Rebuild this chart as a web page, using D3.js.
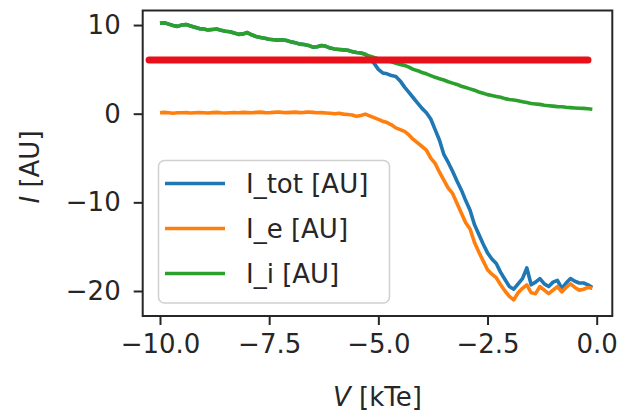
<!DOCTYPE html>
<html>
<head>
<meta charset="utf-8">
<script src="https://cdn.jsdelivr.net/npm/d3@7"></script>
<style>
  html, body { margin: 0; padding: 0; background: #fff; }
  svg { display: block; }
  text { font-family: "DejaVu Sans", sans-serif; fill: #262626; }
</style>
</head>
<body>
<svg id="chart" width="620" height="412"></svg>
<script>
// ---- data ----
const V = [-10.0,-9.9,-9.8,-9.7,-9.6,-9.5,-9.4,-9.3,-9.2,-9.1,
  -9.0,-8.9,-8.8,-8.7,-8.6,-8.5,-8.4,-8.3,-8.2,-8.1,
  -8.0,-7.9,-7.8,-7.7,-7.6,-7.5,-7.4,-7.3,-7.2,-7.1,
  -7.0,-6.9,-6.8,-6.7,-6.6,-6.5,-6.4,-6.3,-6.2,-6.1,
  -6.0,-5.9,-5.8,-5.7,-5.6,-5.5,-5.4,-5.3,-5.2,-5.1,
  -5.0,-4.9,-4.8,-4.7,-4.6,-4.5,-4.4,-4.3,-4.2,-4.1,
  -4.0,-3.9,-3.8,-3.7,-3.6,-3.5,-3.4,-3.3,-3.2,-3.1,
  -3.0,-2.9,-2.8,-2.7,-2.6,-2.5,-2.4,-2.3,-2.2,-2.1,
  -2.0,-1.9,-1.8,-1.7,-1.6,-1.5,-1.4,-1.3,-1.2,-1.1,
  -1.0,-0.9,-0.8,-0.7,-0.6,-0.5,-0.4,-0.3,-0.2,-0.1];

const I_tot = [10.2,10.25,10.1,9.95,9.85,10.0,10.05,9.9,9.75,9.6,
  9.55,9.45,9.5,9.55,9.4,9.3,9.25,9.1,8.95,9.0,
  9.15,8.9,8.7,8.6,8.5,8.4,8.35,8.3,8.35,8.25,
  8.1,8.0,7.85,7.8,7.7,7.5,7.55,7.7,7.6,7.4,
  7.3,7.25,7.2,7.15,7.0,6.9,6.85,6.7,6.2,5.7,
  5.0,4.6,4.5,4.3,4.2,3.7,3.0,2.4,1.8,1.2,
  0.6,0.1,-0.6,-1.8,-3.0,-4.6,-5.5,-6.5,-7.6,-8.6,
  -9.8,-10.9,-12.5,-13.6,-14.7,-15.7,-16.4,-16.9,-17.9,-18.7,
  -19.5,-19.8,-19.2,-18.6,-17.4,-19.3,-19.0,-18.6,-19.2,-19.5,
  -19.0,-18.8,-19.7,-19.1,-18.6,-18.9,-19.1,-19.1,-19.3,-19.6];

const I_e = [0.1,0.15,0.1,0.05,0.1,0.1,0.12,0.08,0.1,0.12,
  0.1,0.08,0.12,0.15,0.1,0.08,0.1,0.12,0.1,0.15,
  0.12,0.1,0.15,0.18,0.12,0.1,0.15,0.2,0.15,0.12,
  0.15,0.18,0.12,0.15,0.2,0.15,0.1,0.12,0.08,0.05,
  0.0,0.05,-0.05,-0.1,-0.15,-0.3,-0.2,-0.05,-0.25,-0.45,
  -0.65,-0.85,-1.0,-1.25,-1.6,-1.8,-2.0,-2.4,-2.9,-3.3,
  -3.7,-4.1,-5.0,-5.6,-6.6,-7.5,-8.4,-9.0,-10.1,-11.2,
  -12.3,-13.0,-14.5,-15.6,-16.6,-17.6,-18.1,-18.5,-19.3,-20.0,
  -20.6,-21.0,-20.2,-19.7,-19.3,-20.2,-20.3,-19.5,-19.9,-20.3,
  -19.9,-19.5,-20.1,-19.6,-19.2,-19.6,-19.9,-19.8,-19.6,-19.7];

const I_i = [10.2,10.25,10.1,9.95,9.85,10.0,10.05,9.9,9.75,9.6,
  9.55,9.45,9.5,9.55,9.4,9.3,9.25,9.1,8.95,9.0,
  9.15,8.9,8.7,8.6,8.5,8.4,8.35,8.3,8.35,8.25,
  8.1,8.0,7.85,7.8,7.7,7.5,7.55,7.7,7.6,7.4,
  7.3,7.25,7.2,7.15,7.0,6.9,6.85,6.7,6.5,6.35,
  6.2,6.05,5.95,5.85,5.7,5.55,5.45,5.25,5.0,4.85,
  4.65,4.5,4.3,4.1,3.95,3.8,3.6,3.45,3.3,3.1,
  2.95,2.8,2.65,2.45,2.3,2.15,2.05,1.95,1.85,1.7,
  1.6,1.55,1.45,1.35,1.25,1.15,1.1,1.05,0.95,0.9,
  0.85,0.8,0.78,0.72,0.68,0.65,0.62,0.6,0.55,0.5];

// red horizontal marker line
const markerV = [-10.25, -0.2];
const markerI = [6.05, 6.05];

const seriesNames = ["I_tot [AU]", "I_e [AU]", "I_i [AU]"];
const seriesColors = ["#1f77b4", "#ff7f0e", "#2ca02c"];
const xTicks = [-10.0, -7.5, -5.0, -2.5, 0.0];
const yTicks = [-20, -10, 0, 10];

// ---- layout ----
const svg = d3.select("#chart");
const L = 142.7, R = 612.3, T = 10.5, B = 316;
const x = d3.scaleLinear().domain([-10.396, 0.357]).range([L, R]);
const y = d3.scaleLinear().domain([-22.82, 11.64]).range([B, T]);

const fmtX = v => (v < 0 ? "\u2212" : "") + Math.abs(v).toFixed(1);
const fmtY = v => (v < 0 ? "\u2212" : "") + Math.abs(v);

const FS = 26;

// lines
const line = d3.line().x(d => x(d[0])).y(d => y(d[1]));
const seriesData = [I_tot, I_e, I_i];
const plot = svg.append("g");

seriesData.forEach((s, i) => {
  plot.append("path")
    .datum(V.map((v, k) => [v, s[k]]))
    .attr("d", line)
    .attr("fill", "none")
    .attr("stroke", seriesColors[i])
    .attr("stroke-width", 3.6)
    .attr("stroke-linejoin", "round")
    .attr("stroke-linecap", "butt");
});

// axes
const xAxis = d3.axisBottom(x).tickValues(xTicks).tickFormat(fmtX).tickSize(9).tickPadding(10);
const yAxis = d3.axisLeft(y).tickValues(yTicks).tickFormat(fmtY).tickSize(9).tickPadding(13);

const gx = svg.append("g").attr("transform", `translate(0,${B})`).call(xAxis);
const gy = svg.append("g").attr("transform", `translate(${L},0)`).call(yAxis);
[gx, gy].forEach(g => {
  g.select(".domain").remove();
  g.selectAll(".tick line").attr("stroke", "#262626").attr("stroke-width", 2);
  g.selectAll(".tick text").attr("font-size", FS).attr("font-family", "DejaVu Sans").attr("fill", "#262626");
});

// spines
svg.append("rect").attr("x", L).attr("y", T).attr("width", R - L).attr("height", B - T)
  .attr("fill", "none").attr("stroke", "#262626").attr("stroke-width", 2);

// legend
const lg = svg.append("g");
lg.append("rect").attr("x", 158.5).attr("y", 160.5).attr("width", 231).attr("height", 142.5)
  .attr("rx", 6).attr("ry", 6)
  .attr("fill", "#fff").attr("fill-opacity", 0.8)
  .attr("stroke", "#d0d0d0").attr("stroke-width", 1.5);
const rowY = [183.5, 228.5, 273.5];
seriesNames.forEach((n, i) => {
  lg.append("line").attr("x1", 165).attr("x2", 225).attr("y1", rowY[i]).attr("y2", rowY[i])
    .attr("stroke", seriesColors[i]).attr("stroke-width", 3.6);
  lg.append("text").attr("x", 246).attr("y", rowY[i] + 9.5).attr("font-size", FS).text(n);
});

// red marker on top
svg.append("path")
  .datum(markerV.map((v, k) => [v, markerI[k]]))
  .attr("d", line)
  .attr("fill", "none")
  .attr("stroke", "#e8111b")
  .attr("stroke-width", 7)
  .attr("stroke-linecap", "round");

// axis labels
const xl = svg.append("text").attr("x", (L + R) / 2).attr("y", 406)
  .attr("text-anchor", "middle").attr("font-size", FS);
xl.append("tspan").attr("font-style", "italic").text("V");
xl.append("tspan").text(" [kTe]");

const yl = svg.append("text")
  .attr("transform", `translate(38.5,167) rotate(-90)`)
  .attr("text-anchor", "middle").attr("font-size", FS);
yl.append("tspan").attr("font-style", "italic").text("I");
yl.append("tspan").text(" [AU]");
</script>
</body>
</html>
